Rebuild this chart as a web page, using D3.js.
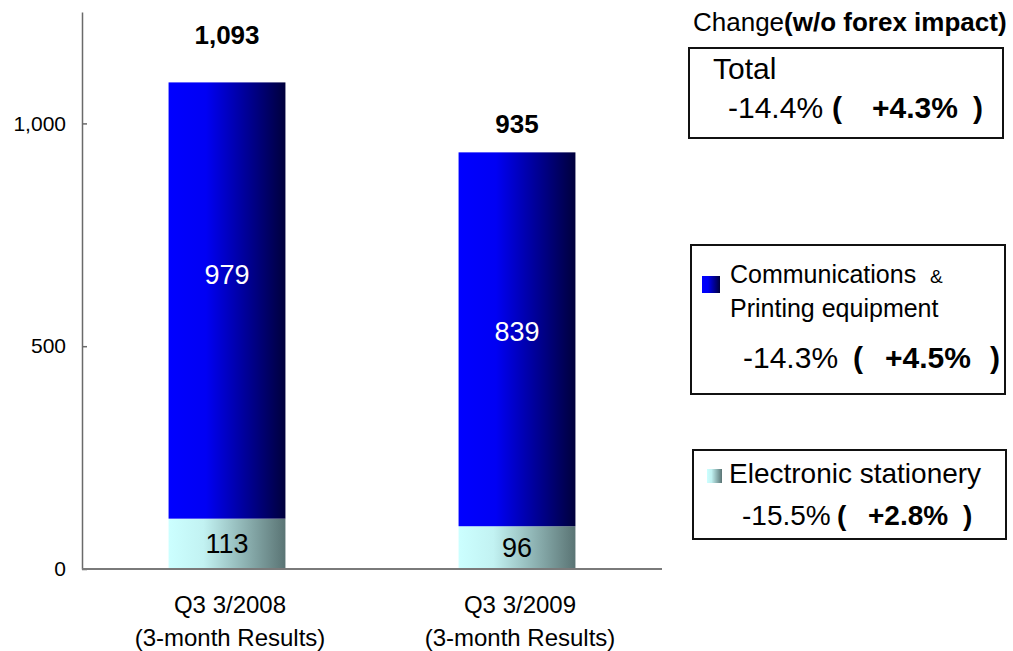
<!DOCTYPE html>
<html>
<head>
<meta charset="utf-8">
<script src="https://cdn.jsdelivr.net/npm/d3@7"></script>
<style>
  html, body { margin: 0; padding: 0; background: #fff; }
  svg { display: block; font-family: Arial, "Liberation Sans", sans-serif; }
</style>
</head>
<body>
<svg id="chart" width="1013" height="651"></svg>
<script>
// Quarterly sales by segment (3-month results)
const categories = ["Q3 3/2008", "Q3 3/2009"];
const categorySub = "(3-month Results)";
const commValues = [979, 839];        // Communications & Printing equipment
const stationeryValues = [113, 96];   // Electronic stationery
const totals = [1093, 935];
const yTicks = [0, 500, 1000];

// Year-on-year change, reported and without forex impact
const changeTitle = "Change";
const changeTitleBold = "(w/o forex impact)";
const totalChange = ["-14.4%", "+4.3%"];
const commChange = ["-14.3%", "+4.5%"];
const stationeryChange = ["-15.5%", "+2.8%"];

const svg = d3.select("#chart");

// gradients for the bar segments and legend swatches
const defs = svg.append("defs");
function hGradient(id, stops) {
  const g = defs.append("linearGradient").attr("id", id)
    .attr("x1", "0%").attr("y1", "0%").attr("x2", "100%").attr("y2", "0%");
  stops.forEach(s => g.append("stop").attr("offset", s[0]).attr("stop-color", s[1]));
}
hGradient("gradComm", [[0, "#0000ff"], [0.32, "#0000f4"], [1, "#00003c"]]);
hGradient("gradStat", [[0, "#ccffff"], [0.3, "#c2f2f2"], [1, "#5a7474"]]);

const x = d3.scaleBand().domain(categories).range([82, 662])
  .paddingInner(0.597).paddingOuter(0.2985);
const y = d3.scaleLinear().domain([0, 1250]).range([569, 12]);

// y axis
const yAxis = d3.axisLeft(y).tickValues(yTicks).tickFormat(d3.format(","))
  .tickSize(-5).tickSizeOuter(0).tickPadding(16);
const gy = svg.append("g").attr("transform", "translate(82,0)").call(yAxis);
gy.select(".domain").attr("stroke", "#6a6a6a").attr("stroke-width", 1.5);
gy.selectAll(".tick line").attr("stroke", "#6a6a6a").attr("stroke-width", 1.5);
gy.selectAll(".tick text").attr("font-size", 21).attr("fill", "#000")
  .attr("font-family", "Arial, 'Liberation Sans', sans-serif");

// stacked bars
const rows = categories.map((c, i) => ({
  cat: c, stat: stationeryValues[i], comm: commValues[i], total: totals[i]
}));

const bars = svg.append("g");
bars.selectAll("rect.stat").data(rows).join("rect").attr("class", "stat")
  .attr("x", d => x(d.cat)).attr("width", x.bandwidth())
  .attr("y", d => y(d.stat)).attr("height", d => y(0) - y(d.stat))
  .attr("fill", "url(#gradStat)");
bars.selectAll("rect.comm").data(rows).join("rect").attr("class", "comm")
  .attr("x", d => x(d.cat)).attr("width", x.bandwidth())
  .attr("y", d => y(d.stat + d.comm)).attr("height", d => y(d.stat) - y(d.stat + d.comm))
  .attr("fill", "url(#gradComm)");

// baseline
svg.append("line").attr("x1", 82).attr("x2", 662).attr("y1", y(0)).attr("y2", y(0))
  .attr("stroke", "#7a7a7a").attr("stroke-width", 2);

// value labels
const commNudge = [-26, -8];
const totalGap = [38, 19];
const cx = d => x(d.cat) + x.bandwidth() / 2;

svg.selectAll("text.commv").data(rows).join("text").attr("class", "commv")
  .attr("x", cx).attr("y", (d, i) => (y(d.stat) + y(d.stat + d.comm)) / 2 + commNudge[i])
  .attr("dy", "0.35em").attr("text-anchor", "middle")
  .attr("font-size", 27).attr("fill", "#fff").text(d => d.comm);

svg.selectAll("text.statv").data(rows).join("text").attr("class", "statv")
  .attr("x", cx).attr("y", d => (y(0) + y(d.stat)) / 2)
  .attr("dy", "0.35em").attr("text-anchor", "middle")
  .attr("font-size", 27).attr("fill", "#000").text(d => d.stat);

svg.selectAll("text.totv").data(rows).join("text").attr("class", "totv")
  .attr("x", cx).attr("y", (d, i) => y(d.stat + d.comm) - totalGap[i])
  .attr("text-anchor", "middle").attr("font-size", 26).attr("font-weight", "bold")
  .attr("fill", "#000").text(d => d3.format(",")(d.total));

// category labels
const catG = svg.selectAll("g.cat").data(rows).join("g").attr("class", "cat")
  .attr("transform", d => `translate(${cx(d) + 3},0)`);
catG.append("text").attr("y", 613).attr("text-anchor", "middle")
  .attr("font-size", 24).text(d => d.cat);
catG.append("text").attr("y", 646).attr("text-anchor", "middle")
  .attr("font-size", 24).text(categorySub);

// change panel
const title = svg.append("text").attr("x", 693).attr("y", 31).attr("font-size", 26);
title.append("tspan").text(changeTitle);
title.append("tspan").attr("font-weight", "bold").text(changeTitleBold);

function box(x0, y0, x1, y1) {
  svg.append("rect").attr("x", x0).attr("y", y0).attr("width", x1 - x0).attr("height", y1 - y0)
    .attr("fill", "none").attr("stroke", "#111").attr("stroke-width", 2);
}
function changeLine(vals, xs, baseline, size) {
  const t = svg.append("text").attr("y", baseline).attr("font-size", size);
  t.append("tspan").attr("x", xs[0]).text(vals[0]);
  t.append("tspan").attr("x", xs[1]).attr("font-weight", "bold").text("(");
  t.append("tspan").attr("x", xs[2]).attr("font-weight", "bold").text(vals[1]);
  t.append("tspan").attr("x", xs[3]).attr("font-weight", "bold").text(")");
}

// Total
box(689, 48, 1003, 138);
svg.append("text").attr("x", 713).attr("y", 79).attr("font-size", 30).text("Total");
changeLine(totalChange, [728, 832, 872, 973], 118, 30);

// Communications & Printing equipment
box(691, 245, 1005, 394);
svg.append("rect").attr("x", 702).attr("y", 276).attr("width", 18).attr("height", 17)
  .attr("fill", "url(#gradComm)");
const c1 = svg.append("text").attr("x", 730).attr("y", 283).attr("font-size", 25);
c1.append("tspan").text("Communications");
c1.append("tspan").attr("x", 930).attr("font-size", 19).text("&");
svg.append("text").attr("x", 730).attr("y", 317).attr("font-size", 25).text("Printing equipment");
changeLine(commChange, [743, 853, 885, 990], 368, 30);

// Electronic stationery
box(693, 450, 1006, 539);
svg.append("rect").attr("x", 707).attr("y", 469).attr("width", 15).attr("height", 14)
  .attr("fill", "url(#gradStat)");
svg.append("text").attr("x", 729).attr("y", 483).attr("font-size", 28).text("Electronic stationery");
changeLine(stationeryChange, [742, 837, 868, 963], 525, 28);
</script>
</body>
</html>
